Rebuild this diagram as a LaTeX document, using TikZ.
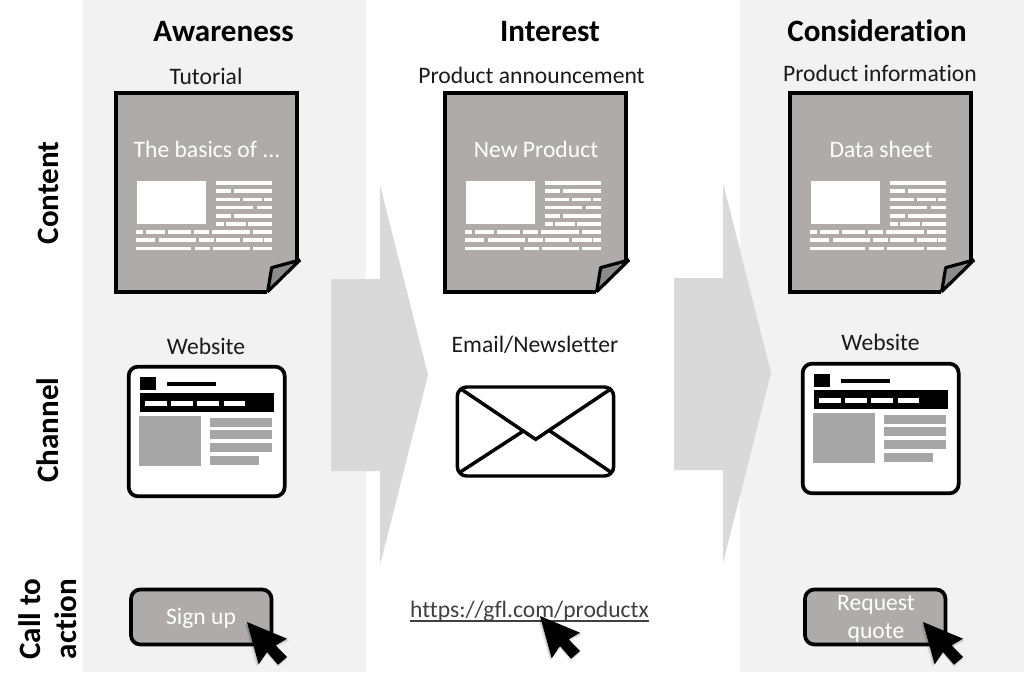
\documentclass[tikz,border=0pt]{standalone}
\usepackage{fontspec}
\setmainfont[Ligatures=NoCommon]{Carlito}
\definecolor{panel}{HTML}{F2F2F2}
\definecolor{flow}{HTML}{D9D9D9}
\definecolor{paper}{HTML}{AFABAB}
\definecolor{foldc}{HTML}{8C8A8A}
\definecolor{imgc}{HTML}{A6A6A6}
\definecolor{ink}{HTML}{1A1A1A}
\definecolor{urlc}{HTML}{404040}
\tikzset{
  heading/.style={font=\fontsize{23.3}{26}\selectfont\bfseries,text=black,anchor=base,inner sep=0pt},
  axislabel/.style={font=\fontsize{23.3}{26}\selectfont\bfseries,text=black,anchor=base,rotate=90,inner sep=0pt},
  caption/.style={font=\fontsize{17.7}{20}\selectfont,text=ink,anchor=base,inner sep=0pt},
  whitetext/.style={font=\fontsize{17.7}{20}\selectfont,text=white,anchor=base,inner sep=0pt},
  outline/.style={draw=black,line width=2.8pt,line join=miter},
}
\newcommand{\docicon}[1]{%
  \begin{scope}[shift={(#1,80)},scale=1/3]
    \fill[paper] (47,38) -- (592,38) -- (592,540) -- (500,635) -- (47,635) -- cycle;
    \draw[outline] (500,635) -- (47,635) -- (47,38) -- (592,38) -- (592,540);
    \fill[foldc] (515,565) -- (596,543) -- (503,634) -- cycle;
    \draw[black,line width=2.4pt,line join=bevel] (600,540) -- (515,563) -- (503,635) -- cycle;
    \fill[white] (112,303) rectangle (318,431);
    \foreach \y/\a/\b in {
      308/348/516,
      333/348/393, 333/403/516,
      358/348/420, 358/430/487, 358/493/516,
      382/348/460, 382/471/516,
      407/348/393, 407/403/516,
      432/348/371, 432/378/437, 432/445/516,
      455/108/130, 455/137/195, 455/204/274, 455/283/327, 455/337/450, 455/459/516,
      480/108/164, 480/176/288, 480/298/342, 480/348/420, 480/430/488, 480/493/516,
      505/108/274, 505/285/330, 505/339/451, 505/459/516}
      {\fill[white] (\a,\y-5.5) rectangle (\b,\y+5.5);}
  \end{scope}}
\newcommand{\siteicon}[2]{%
  \begin{scope}[shift={(#1,#2)},scale=1/3]
    \draw[black,fill=white,line width=2.8pt,rounded corners=7pt] (56,35) rectangle (524,424);
    \fill[black] (89,67) rectangle (138,106);
    \fill[black] (170,80) rectangle (319,94);
    \fill[black] (89,115) rectangle (491,172);
    \foreach \a/\b in {106/170,184/248,262/327,341/405}
      {\fill[white] (\a,139) rectangle (\b,154);}
    \fill[imgc] (87,184) rectangle (273,333);
    \fill[imgc] (300,188) rectangle (486,215);
    \fill[imgc] (300,226) rectangle (486,253);
    \fill[imgc] (300,265) rectangle (486,292);
    \fill[imgc] (300,303) rectangle (446,330);
  \end{scope}}
\newcommand{\cursoricon}[2]{%
  \begin{scope}[shift={(#1,#2)},scale=1/3]
    \foreach \d/\o in {2/.10,4/.08,7/.06}
      {\fill[black,opacity=\o] (0-\d,2+\d) -- (120+\d,50+\d) -- (86,70+\d) -- (120,105+\d) -- (93,128+\d) -- (60,90+\d) -- (35-\d,127+\d) -- cycle;}
    \fill[black] (0,0) -- (120,50) -- (86,70) -- (120,105) -- (93,128) -- (60,90) -- (35,127) -- cycle;
  \end{scope}}
\begin{document}
\begin{tikzpicture}[x=0.75pt,y=-0.75pt]
\useasboundingbox (0,0) rectangle (1024,679);
\fill[white] (0,0) rectangle (1024,679);
\fill[panel] (83,0) rectangle (366,672);
\fill[panel] (740,0) rectangle (1024,672);
% flow arrows
\fill[flow] (331,279) -- (380,279) -- (380,185) -- (428,375) -- (380,565) -- (380,471) -- (331,471) -- cycle;
\fill[flow] (674,278) -- (723,278) -- (723,183) -- (771,373) -- (723,563) -- (723,470) -- (674,470) -- cycle;
% headings
\node[heading] (hAware) at (223.5,41.5) {Awareness};
\node[heading] (hInterest) at (550,41.5) {Interest};
\node[heading] (hCons) at (877,41.5) {Consideration};
% row labels
\node[axislabel] (lContent) at (58.5,193) {Content};
\node[axislabel] (lChannel) at (58.5,430) {Channel};
\node[axislabel] (lCall) at (40.5,619) {Call to};
\node[axislabel] (lAction) at (76.5,619) {action};
% captions
\node[caption] (cTut) at (206,84.5) {Tutorial};
\node[caption] (cAnn) at (531.5,83.5) {Product announcement};
\node[caption] (cInfo) at (880,81.5) {Product information};
\node[caption] (cWeb1) at (206,354.5) {Website};
\node[caption] (cMail) at (535,352.5) {Email/Newsletter};
\node[caption] (cWeb2) at (880.5,350.5) {Website};
% documents
\docicon{100}
\docicon{429}
\docicon{774}
\node[whitetext] (tBasics) at (207,157.5) {The basics of ...};
\node[whitetext] (tNew) at (536,157.5) {New Product};
\node[whitetext] (tData) at (881,157.5) {Data sheet};
% websites
\siteicon{110}{355}
\siteicon{784}{352}
% envelope
\begin{scope}[shift={(400,370)},scale=1/3]
  \draw[black,fill=white,line width=2.6pt,rounded corners=7pt] (172,51) rectangle (641,318);
  \draw[black,line width=2.6pt,line join=miter] (180,55) -- (407,208) -- (635,55);
  \draw[black,line width=2.6pt] (178,308) -- (370,183);
  \draw[black,line width=2.6pt] (635,308) -- (450,183);
\end{scope}
% calls to action
\draw[black,fill=paper,line width=2.8pt,rounded corners=7pt] (131,589.5) rectangle (271.5,644.5);
\node[whitetext] (tSign) at (201,624.5) {Sign up};
\draw[black,fill=paper,line width=2.8pt,rounded corners=7pt] (805,589.5) rectangle (945.5,644.5);
\node[whitetext] (tReq) at (876,610.5) {Request};
\node[whitetext] (tQuote) at (876,638.5) {quote};
\node[caption,text=urlc] (tUrl) at (529.5,617.5) {https://gfl.com/productx};
\draw[urlc,line width=0.9pt] (410,621) -- (649,621);
\cursoricon{247}{622}
\cursoricon{540}{616}
\cursoricon{923}{622}
\end{tikzpicture}
\end{document}
